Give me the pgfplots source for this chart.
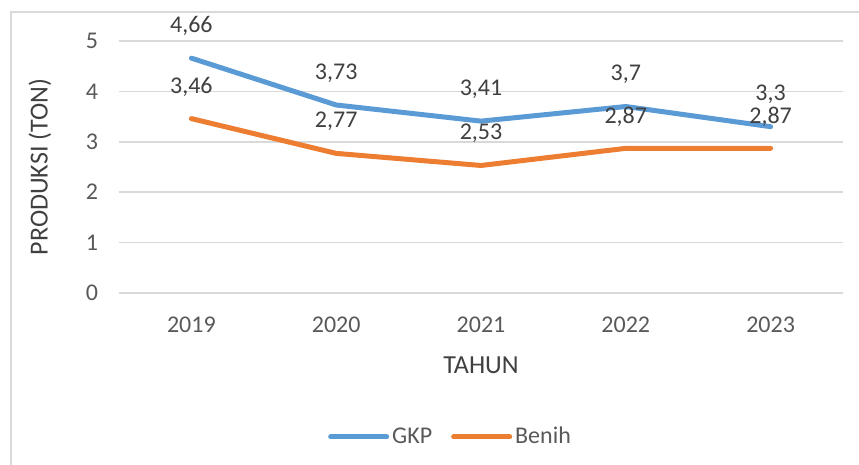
\documentclass[border=0pt]{standalone}
\usepackage{pgfplots}
\pgfplotsset{compat=1.18}
\usepackage{fontspec}
\setmainfont{Carlito}
\definecolor{gkp}{HTML}{5B9BD5}
\definecolor{benih}{HTML}{ED7D31}
\definecolor{gridgray}{HTML}{D9D9D9}
\definecolor{ticktxt}{HTML}{595959}
\definecolor{lbltxt}{HTML}{404040}
\begin{document}
\begin{tikzpicture}
\path[use as bounding box] (0,0) rectangle (429.5pt,232.5pt);
\draw[gridgray, line width=0.6pt] (5.5pt,0) -- (5.5pt,226.5pt) -- (429.5pt,226.5pt);
\begin{axis}[
  at={(59.5pt,86pt)}, anchor=south west,
  scale only axis, width=362pt, height=126pt,
  xmin=-0.5, xmax=4.5, ymin=0, ymax=5,
  xtick={0,1,2,3,4}, xticklabels={2019,2020,2021,2022,2023},
  ytick={0,1,2,3,4,5},
  axis line style={draw=none},
  major tick length=0pt,
  ymajorgrids=true, xmajorgrids=false,
  major grid style={draw=gridgray, line width=0.75pt},
  tick label style={font=\fontsize{12}{14}\selectfont, text=ticktxt},
  xticklabel style={anchor=center, yshift=-16pt},
  yticklabel style={anchor=east, xshift=-7pt},
  /pgf/number format/assume math mode=true,
  xlabel={TAHUN}, ylabel={PRODUKSI (TON)},
  every axis x label/.style={at={([yshift=-36pt]axis description cs:0.5,0)}, anchor=center, font=\fontsize{13}{15}\selectfont, text=lbltxt},
  every axis y label/.style={at={([xshift=-39.5pt]axis description cs:0,0.5)}, rotate=90, anchor=center, font=\fontsize{13}{15}\selectfont, text=lbltxt},
  nodes near coords={\pgfmathprintnumber[use comma,fixed,precision=2]{\pgfplotspointmeta}},
  every node near coord/.append style={anchor=center, yshift=16pt, font=\fontsize{12}{14}\selectfont, text=lbltxt},
  legend columns=2,
  legend style={at={([xshift=0pt]axis description cs:0.4586,-0.5714)}, anchor=center, draw=none, fill=none,
    font=\fontsize{12}{14}\selectfont, text=ticktxt,
    nodes={inner xsep=1.5pt},
    /tikz/every even column/.append style={column sep=8pt}},
  legend image code/.code={\draw[#1, line cap=round] (0pt,0pt) -- (28pt,0pt);},
]
\addplot[gkp, line width=2.5pt, line cap=round, line join=round] coordinates {(0,4.66) (1,3.73) (2,3.41) (3,3.7) (4,3.3)};
\addlegendentry{GKP}
\addplot[benih, line width=2.5pt, line cap=round, line join=round] coordinates {(0,3.46) (1,2.77) (2,2.53) (3,2.87) (4,2.87)};
\addlegendentry{Benih}
\end{axis}
\end{tikzpicture}
\end{document}
